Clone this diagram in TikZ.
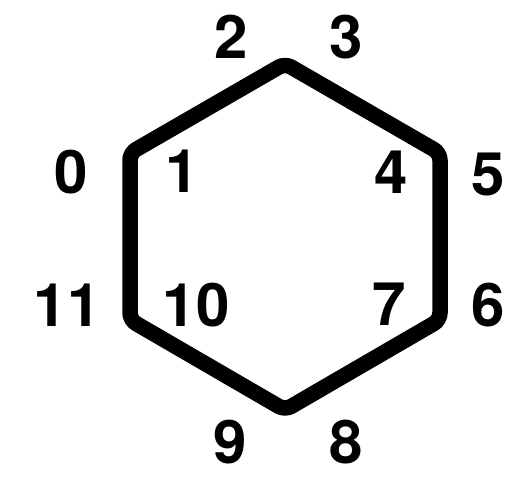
\documentclass[tikz,border=0pt]{standalone}
\usepackage{fontspec}
\setmainfont{TeX Gyre Heros}
\begin{document}
\begin{tikzpicture}[x=1pt,y=-1pt,
  lbl/.style={inner sep=0pt,font=\fontsize{60}{60}\selectfont\bfseries},
  hex/.style={line width=15.5pt,line join=round,rounded corners=7pt}]
\useasboundingbox (0,0) rectangle (515,477);
\coordinate (v1) at (285,63.5);
\coordinate (v2) at (440,153);
\coordinate (v3) at (440,320);
\coordinate (v4) at (285,410);
\coordinate (v5) at (130,320);
\coordinate (v6) at (130,153);
\draw[hex] (v1) -- (v2) -- (v3) -- (v4) -- (v5) -- (v6) -- cycle;
\node[lbl] (n0) at (71,172) {0};
\node[lbl] (n1) at (182,171) {1};
\node[lbl] (n2) at (231,37) {2};
\node[lbl] (n3) at (346,37) {3};
\node[lbl] (n4) at (391,172) {4};
\node[lbl] (n5) at (488,174) {5};
\node[lbl] (n6) at (488,305) {6};
\node[lbl] (n7) at (389,304) {7};
\node[lbl] (n8) at (346,442) {8};
\node[lbl] (n9) at (230,442) {9};
\node[lbl] (n10) at (196,305) {10};
\node[lbl] (n11) at (67,305) {11};
\end{tikzpicture}
\end{document}
